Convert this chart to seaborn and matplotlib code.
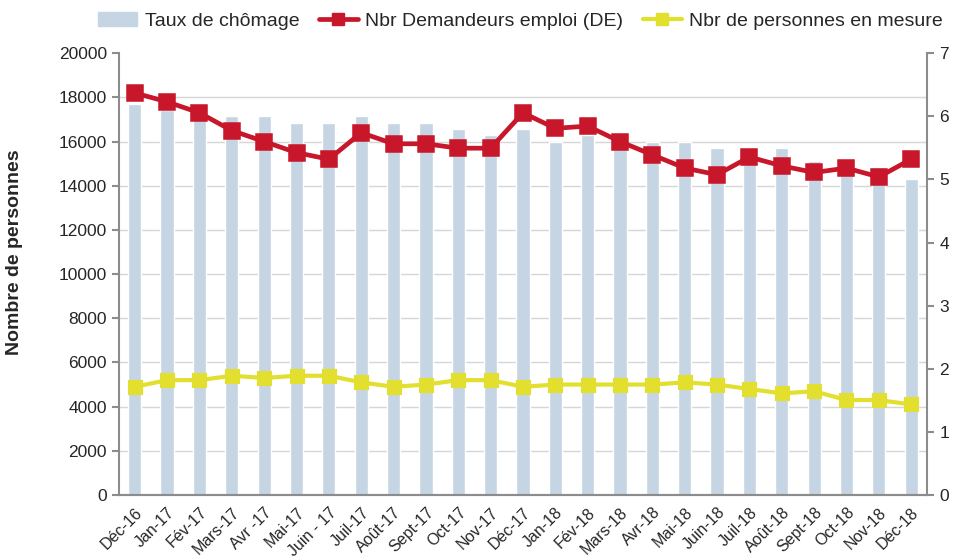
import matplotlib.pyplot as plt
import matplotlib.patches as mpatches
from matplotlib.lines import Line2D
import numpy as np
import pandas as pd
import seaborn as sns

mois = ["Déc-16", "Jan-17", "Fév-17", "Mars-17", "Avr -17", "Mai-17", "Juin - 17",
        "Juil-17", "Août-17", "Sept-17", "Oct-17", "Nov-17", "Déc-17", "Jan-18",
        "Fév-18", "Mars-18", "Avr-18", "Mai-18", "Juin-18", "Juil-18", "Août-18",
        "Sept-18", "Oct-18", "Nov-18", "Déc-18"]
taux_chomage = [6.2, 6.1, 6.0, 6.0, 6.0, 5.9, 5.9, 6.0, 5.9, 5.9, 5.8, 5.7, 5.8,
                5.6, 5.7, 5.6, 5.6, 5.6, 5.5, 5.5, 5.5, 5.3, 5.2, 5.2, 5.0]
demandeurs = [18200, 17800, 17300, 16500, 16000, 15500, 15200, 16400, 15900, 15900,
              15700, 15700, 17300, 16600, 16700, 16000, 15400, 14800, 14500, 15300,
              14900, 14600, 14800, 14400, 15200]
en_mesure = [4900, 5200, 5200, 5400, 5300, 5400, 5400, 5100, 4900, 5000, 5200, 5200,
             4900, 5000, 5000, 5000, 5000, 5100, 5000, 4800, 4600, 4700, 4300, 4300, 4100]

df = pd.DataFrame({"mois": mois, "taux": taux_chomage,
                   "de": demandeurs, "mesure": en_mesure})

bar_col = "#c5d5e3"
red = "#c8172a"
yellow = "#e2df2e"
grey = "#8c8c8c"

sns.set_style("white")
plt.rcParams["font.family"] = ["Liberation Sans", "DejaVu Sans"]

fig, ax = plt.subplots(figsize=(9.64, 5.6), dpi=100)
fig.subplots_adjust(left=0.123, right=0.962, bottom=0.116, top=0.905)
ax2 = ax.twinx()

# bars (taux) on the right axis, behind the lines
sns.barplot(data=df, x="mois", y="taux", ax=ax2, color=bar_col, width=0.41,
            saturation=1, order=mois)
ax2.set_ylim(0, 7)
ax2.set_yticks(range(0, 8))
ax2.set_ylabel("")
ax2.set_axisbelow(True)
# horizontal grid at the left axis ticks, drawn under the bars
ax2.set_yticks(np.arange(0, 20001, 2000) * 7 / 20000, minor=True)
ax2.grid(which="minor", axis="y", color="#d6d6d6", linewidth=1)
ax2.tick_params(axis="y", which="minor", length=0)

# lines on the left axis
sns.pointplot(data=df, x="mois", y="de", ax=ax, color=red, markers="s",
              order=mois, markersize=9.5, linewidth=3.4)
sns.pointplot(data=df, x="mois", y="mesure", ax=ax, color=yellow, markers="s",
              order=mois, markersize=8.5, linewidth=3)
ax.set_zorder(ax2.get_zorder() + 1)
ax.patch.set_visible(False)

ax.set_ylim(0, 20000)
ax.set_yticks(range(0, 20001, 2000))
ax.set_xlim(-0.5, len(mois) - 0.5)
ax.set_xlabel("")
ax.set_ylabel("Nombre de personnes", fontsize=14, fontweight="bold")
ax.yaxis.set_label_coords(-0.118, 0.55)
ax.grid(False)

ax.set_xticks(range(len(mois)))
ax.set_xticklabels(mois, rotation=45, ha="right", rotation_mode="anchor", fontsize=11.5)
ax.set_xticks(np.arange(-0.5, len(mois), 1), minor=True)
ax.tick_params(axis="x", which="major", length=0, pad=7)
ax.tick_params(axis="x", which="minor", length=5, color=grey, width=1.5, direction="out")
ax.tick_params(axis="y", length=5, color=grey, width=1.5, direction="out", labelsize=12.5)
ax2.tick_params(axis="y", which="major", length=5, color=grey, width=1.5,
                direction="out", labelsize=12.5)
ax2.tick_params(axis="x", length=0)

for a in (ax, ax2):
    a.spines["top"].set_visible(False)
    for s in ("left", "right", "bottom"):
        a.spines[s].set_color(grey)
        a.spines[s].set_linewidth(1.5)
ax.spines["right"].set_visible(False)
ax2.spines["left"].set_visible(False)

handles = [
    mpatches.Patch(color=bar_col, label="Taux de chômage"),
    Line2D([], [], color=red, marker="s", markersize=8, linewidth=3.4,
           label="Nbr Demandeurs emploi (DE)"),
    Line2D([], [], color=yellow, marker="s", markersize=8, linewidth=3,
           label="Nbr de personnes en mesure"),
]
fig.legend(handles=handles, loc="upper center", bbox_to_anchor=(0.54, 1.01), ncol=3,
           frameon=False, fontsize=14, handlelength=2.0, columnspacing=1.0,
           handletextpad=0.4)

fig.savefig("out.png", dpi=100)
